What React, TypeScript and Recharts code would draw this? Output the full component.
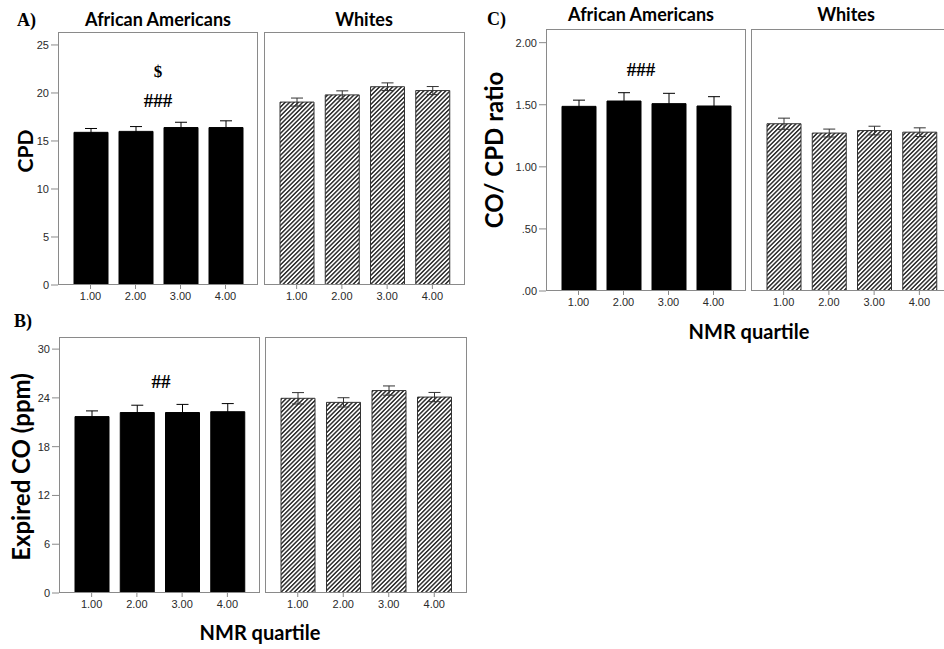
import { BarChart, Bar, XAxis, YAxis, ErrorBar } from "recharts";

// NMR quartile categories
const quartiles = ["1.00", "2.00", "3.00", "4.00"];

// A) cigarettes per day
const cpdAA = [15.9, 16.0, 16.4, 16.4];
const cpdAAErr = [0.4, 0.5, 0.55, 0.7];
const cpdW = [19.05, 19.8, 20.65, 20.25];
const cpdWErr = [0.42, 0.42, 0.4, 0.42];
const cpdTicks = [0, 5, 10, 15, 20, 25];

// B) expired CO
const coAA = [21.7, 22.2, 22.2, 22.3];
const coAAErr = [0.7, 0.9, 1.0, 1.0];
const coW = [23.95, 23.45, 24.9, 24.1];
const coWErr = [0.7, 0.57, 0.57, 0.57];
const coTicks = [0, 6, 12, 18, 24, 30];

// C) CO / CPD ratio
const ratioAA = [1.487, 1.53, 1.509, 1.49];
const ratioAAErr = [0.05, 0.067, 0.083, 0.075];
const ratioW = [1.347, 1.272, 1.292, 1.279];
const ratioWErr = [0.045, 0.032, 0.035, 0.035];
const ratioTicks = [0, 0.5, 1, 1.5, 2];

const tickFont = { fontFamily: "Liberation Sans, Arial, sans-serif", fontSize: 11, fill: "#2a2a2a" };
const boxColor = "#8a8a8a";

const ratioFmt = (v: number) => (v < 1 ? v.toFixed(2).replace(/^0/, "") : v.toFixed(2));

interface PanelProps {
  left: number;
  top: number;
  w: number;
  h: number;
  values: number[];
  errors: number[];
  max: number;
  ticks: number[];
  hatched?: boolean;
  showY?: boolean;
  fmt?: (v: number) => string;
}

function Panel(p: PanelProps) {
  const yw = p.showY ? 44 : 0;
  const mt = 6;
  const data = quartiles.map((q, i) => ({ q, v: p.values[i], e: p.errors[i] }));
  return (
    <div style={{ position: "absolute", left: p.left - yw, top: p.top - mt }}>
      <BarChart
        width={yw + p.w + 4}
        height={mt + p.h + 26}
        data={data}
        margin={{ top: mt, right: 4, bottom: 0, left: 0 }}
      >
        <XAxis
          dataKey="q"
          padding={{ left: 10, right: 10 }}
          height={26}
          tickSize={4}
          tickMargin={3}
          axisLine={false}
          tickLine={{ stroke: boxColor }}
          tick={tickFont}
          interval={0}
        />
        <YAxis
          width={yw}
          hide={!p.showY}
          domain={[0, p.max]}
          ticks={p.ticks}
          allowDataOverflow
          axisLine={false}
          tickSize={7}
          tickMargin={2}
          tickLine={{ stroke: boxColor }}
          tick={tickFont}
          tickFormatter={p.fmt}
        />
        <Bar
          dataKey="v"
          barSize={34}
          fill={p.hatched ? "url(#hatch)" : "#000"}
          stroke={p.hatched ? "#333" : "#000"}
          strokeWidth={1}
          isAnimationActive={false}
        >
          <ErrorBar
            dataKey="e"
            direction="y"
            width={6}
            stroke={p.hatched ? "#333" : "#000"}
            strokeWidth={1}
            isAnimationActive={false}
          />
        </Bar>
      </BarChart>
      <div
        style={{
          position: "absolute",
          left: yw,
          top: mt,
          width: p.w,
          height: p.h,
          border: `1px solid ${boxColor}`,
          boxSizing: "border-box",
          pointerEvents: "none",
        }}
      />
    </div>
  );
}

const titleStyle = { fontFamily: "Lato, sans-serif", fontWeight: 700, fill: "#000" };
const serifStyle = { fontFamily: "Liberation Serif, serif", fontWeight: 700, fill: "#000" };

function VLabel({ x, y, size, text }: { x: number; y: number; size: number; text: string }) {
  return (
    <text
      x={x}
      y={y}
      dy="0.35em"
      textAnchor="middle"
      transform={`rotate(-90 ${x} ${y})`}
      style={{ ...titleStyle, fontSize: size }}
    >
      {text}
    </text>
  );
}

export default function App() {
  return (
    <div style={{ position: "absolute", left: 0, top: 0, width: 944, height: 649, background: "#fff", overflow: "hidden" }}>
      <svg width={0} height={0} style={{ position: "absolute" }}>
        <defs>
          <pattern id="hatch" patternUnits="userSpaceOnUse" width={3.1} height={3.1} patternTransform="rotate(45)">
            <rect width={3.1} height={3.1} fill="#fff" />
            <rect width={1.5} height={3.1} fill="#2e2e2e" />
          </pattern>
        </defs>
      </svg>

      <Panel left={58} top={32} w={200} h={253} values={cpdAA} errors={cpdAAErr} max={26.35} ticks={cpdTicks} showY />
      <Panel left={264} top={32} w={201} h={253} values={cpdW} errors={cpdWErr} max={26.35} ticks={cpdTicks} hatched />

      <Panel left={59} top={337} w={201} h={256} values={coAA} errors={coAAErr} max={31.49} ticks={coTicks} showY />
      <Panel left={265} top={337} w={202} h={256} values={coW} errors={coWErr} max={31.49} ticks={coTicks} hatched />

      <Panel left={546} top={29} w={200} h={262} values={ratioAA} errors={ratioAAErr} max={2.11} ticks={ratioTicks} fmt={ratioFmt} showY />
      <Panel left={751} top={29} w={201} h={262} values={ratioW} errors={ratioWErr} max={2.11} ticks={ratioTicks} fmt={ratioFmt} hatched />

      <svg width={944} height={649} style={{ position: "absolute", left: 0, top: 0, pointerEvents: "none" }}>
        <text x={17} y={26} style={{ ...serifStyle, fontSize: 18 }}>A)</text>
        <text x={14} y={327} style={{ ...serifStyle, fontSize: 18 }}>B)</text>
        <text x={487} y={25} style={{ ...serifStyle, fontSize: 18 }}>C)</text>

        <text x={158} y={26} textAnchor="middle" style={{ ...titleStyle, fontSize: 18 }}>African Americans</text>
        <text x={364} y={26} textAnchor="middle" style={{ ...titleStyle, fontSize: 18 }}>Whites</text>
        <text x={641} y={21} textAnchor="middle" style={{ ...titleStyle, fontSize: 18 }}>African Americans</text>
        <text x={846} y={21} textAnchor="middle" style={{ ...titleStyle, fontSize: 18 }}>Whites</text>

        <VLabel x={26} y={151} size={21} text="CPD" />
        <VLabel x={22} y={467} size={24} text="Expired CO (ppm)" />
        <VLabel x={495} y={150} size={24} text="CO/ CPD ratio" />

        <text x={260} y={640} textAnchor="middle" style={{ ...titleStyle, fontSize: 20 }}>NMR quartile</text>
        <text x={749} y={339} textAnchor="middle" style={{ ...titleStyle, fontSize: 20 }}>NMR quartile</text>

        <text x={158} y={77} textAnchor="middle" style={{ ...serifStyle, fontSize: 17 }}>$</text>
        <text x={158} y={107} textAnchor="middle" style={{ ...serifStyle, fontSize: 19 }}>###</text>
        <text x={161} y={388} textAnchor="middle" style={{ ...serifStyle, fontSize: 19 }}>##</text>
        <text x={641} y={76} textAnchor="middle" style={{ ...serifStyle, fontSize: 19 }}>###</text>
      </svg>
    </div>
  );
}
